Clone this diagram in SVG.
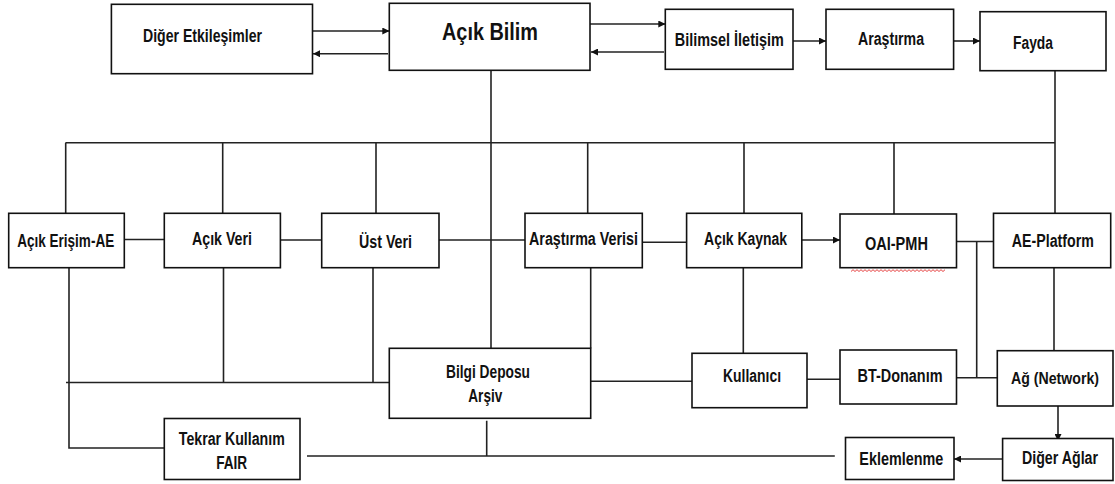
<svg xmlns="http://www.w3.org/2000/svg" width="1115" height="484" viewBox="0 0 1115 484">
<defs>
<marker id="ah" viewBox="0 0 10 10" refX="10" refY="5" markerWidth="7" markerHeight="7" markerUnits="userSpaceOnUse" orient="auto">
<path d="M0,0 L10,5 L0,10 z" fill="#111"/>
</marker>
<style>
.box{fill:#fff;stroke:#111;stroke-width:1.6}
.lbl{font-family:"Liberation Sans",Arial,sans-serif;font-weight:bold;font-size:17.5px;fill:#111;text-anchor:middle}
.big{font-size:23px}
.sm{font-size:16.5px}
.ln{fill:none;stroke:#222;stroke-width:1.6}
.ar{fill:none;stroke:#222;stroke-width:1.6;marker-end:url(#ah)}
</style>
</defs>
<rect width="1115" height="484" fill="#fff"/>
<g id="connectors">
<path class="ar" d="M312.5,31 H389.3"/>
<path class="ar" d="M388,53.7 H313"/>
<path class="ar" d="M590,24 H665.3"/>
<path class="ar" d="M664,52 H591"/>
<path class="ar" d="M793,41 H826"/>
<path class="ar" d="M953.6,41 H980"/>
<path class="ln" d="M491,70.3 V348.3"/>
<path class="ln" d="M65.5,142.7 H1055"/>
<path class="ln" d="M1055,70.7 V213.3"/>
<path class="ln" d="M65.7,142.7 V213.3 M222.7,142.7 V213.3 M376,142.7 V213.3 M587.7,142.7 V213.3 M744,142.7 V213.3 M894,142.7 V214"/>
<path class="ln" d="M124.3,239.5 H164.3 M280.4,240 H321.7 M439,240 H525 M642.3,242.3 H686.6"/>
<path class="ar" d="M801.8,240 H840"/>
<path class="ln" d="M956.5,241.5 H993.5 M976.7,241.5 V377.7"/>
<path class="ln" d="M1054,267.7 V350.7"/>
<path class="ln" d="M69,267.7 V448 H164.3"/>
<path class="ln" d="M223.5,267.7 V382.5 M373,267.7 V382.5 M66,382.5 H389.3"/>
<path class="ln" d="M590.7,267.7 V348.3"/>
<path class="ln" d="M590.7,381.3 H692 M743.3,267.7 V353.3 M807,379.3 H840 M956.5,377.7 H997.3"/>
<path class="ar" d="M1058,406 V441"/>
<path class="ar" d="M1002.6,459 H954"/>
<path class="ln" d="M307,456 H834.8 M486.7,420.7 V456"/>
</g>
<g id="n-diger-etkilesimler"><rect class="box" x="111.4" y="4.3" width="201.1" height="69.4"/><text class="lbl" x="202.5" y="41.7" textLength="119" lengthAdjust="spacingAndGlyphs">Diğer Etkileşimler</text></g>
<g id="n-acik-bilim"><rect class="box" x="389.3" y="3.3" width="200.7" height="67"/><text class="lbl big" x="490" y="40" textLength="96" lengthAdjust="spacingAndGlyphs">Açık Bilim</text></g>
<g id="n-bilimsel-iletisim"><rect class="box" x="665.3" y="9.3" width="127.7" height="60"/><text class="lbl" x="729.3" y="46" textLength="109" lengthAdjust="spacingAndGlyphs">Bilimsel İletişim</text></g>
<g id="n-arastirma"><rect class="box" x="826" y="9.3" width="127.6" height="60"/><text class="lbl" x="891" y="45" textLength="66" lengthAdjust="spacingAndGlyphs">Araştırma</text></g>
<g id="n-fayda"><rect class="box" x="980" y="11.7" width="126" height="59"/><text class="lbl" x="1033" y="49" textLength="40" lengthAdjust="spacingAndGlyphs">Fayda</text></g>
<g id="n-acik-erisim"><rect class="box" x="8.7" y="213.3" width="115.6" height="54.4"/><text class="lbl" x="65.7" y="246.7" textLength="97" lengthAdjust="spacingAndGlyphs">Açık Erişim-AE</text></g>
<g id="n-acik-veri"><rect class="box" x="164.3" y="213.3" width="116.1" height="54.4"/><text class="lbl" x="222" y="245" textLength="60" lengthAdjust="spacingAndGlyphs">Açık Veri</text></g>
<g id="n-ust-veri"><rect class="box" x="321.7" y="213.3" width="117.3" height="54.4"/><text class="lbl" x="385.5" y="247.5" textLength="53" lengthAdjust="spacingAndGlyphs">Üst Veri</text></g>
<g id="n-arastirma-verisi"><rect class="box" x="525" y="213.3" width="117.3" height="54.4"/><text class="lbl" x="583.5" y="245" textLength="109" lengthAdjust="spacingAndGlyphs">Araştırma Verisi</text></g>
<g id="n-acik-kaynak"><rect class="box" x="686.6" y="213.3" width="115.2" height="54.4"/><text class="lbl" x="745.6" y="245" textLength="83" lengthAdjust="spacingAndGlyphs">Açık Kaynak</text></g>
<g id="n-oai-pmh"><rect class="box" x="840" y="214" width="116.5" height="53.7"/><text class="lbl" x="896.4" y="250" textLength="63" lengthAdjust="spacingAndGlyphs">OAI-PMH</text>
<path d="M851,271.5 l2,-1.8 l2,1.8 l2,-1.8 l2,1.8 l2,-1.8 l2,1.8 l2,-1.8 l2,1.8 l2,-1.8 l2,1.8 l2,-1.8 l2,1.8 l2,-1.8 l2,1.8 l2,-1.8 l2,1.8 l2,-1.8 l2,1.8 l2,-1.8 l2,1.8 l2,-1.8 l2,1.8 l2,-1.8 l2,1.8 l2,-1.8 l2,1.8 l2,-1.8 l2,1.8 l2,-1.8 l2,1.8 l2,-1.8 l2,1.8 l2,-1.8 l2,1.8 l2,-1.8 l2,1.8 l2,-1.8 l2,1.8 l2,-1.8 l2,1.8 l2,-1.8 l2,1.8 l2,-1.8 l2,1.8 l2,-1.8 l2,1.8 l2,-1.8" fill="none" stroke="#e23030" stroke-width="0.9"/></g>
<g id="n-ae-platform"><rect class="box" x="993.5" y="213.3" width="117.2" height="54.4"/><text class="lbl" x="1052.8" y="247.3" textLength="82" lengthAdjust="spacingAndGlyphs">AE-Platform</text></g>
<g id="n-bilgi-deposu"><rect class="box" x="389.3" y="348.3" width="201.4" height="70"/><text class="lbl" x="488" y="378.3" textLength="84" lengthAdjust="spacingAndGlyphs">Bilgi Deposu</text><text class="lbl" x="485.3" y="401.7" textLength="34" lengthAdjust="spacingAndGlyphs">Arşiv</text></g>
<g id="n-kullanici"><rect class="box" x="692" y="353.3" width="115" height="54.4"/><text class="lbl" x="752" y="382.3" textLength="58" lengthAdjust="spacingAndGlyphs">Kullanıcı</text></g>
<g id="n-bt-donanim"><rect class="box" x="840" y="350" width="116.5" height="54"/><text class="lbl" x="900" y="382.3" textLength="85" lengthAdjust="spacingAndGlyphs">BT-Donanım</text></g>
<g id="n-ag"><rect class="box" x="997.3" y="350.7" width="115.7" height="55.3"/><text class="lbl sm" x="1055" y="384" textLength="88" lengthAdjust="spacingAndGlyphs">Ağ (Network)</text></g>
<g id="n-tekrar-kullanim"><rect class="box" x="164.3" y="418.5" width="135.7" height="61"/><text class="lbl" x="231.8" y="445" textLength="106" lengthAdjust="spacingAndGlyphs">Tekrar Kullanım</text><text class="lbl" x="231.7" y="468.5" textLength="31" lengthAdjust="spacingAndGlyphs">FAIR</text></g>
<g id="n-eklemlenme"><rect class="box" x="845.5" y="437.5" width="108.5" height="42"/><text class="lbl" x="901.3" y="465" textLength="84" lengthAdjust="spacingAndGlyphs">Eklemlenme</text></g>
<g id="n-diger-aglar"><rect class="box" x="1002.6" y="438.5" width="110.4" height="42"/><text class="lbl" x="1060" y="463.5" textLength="76" lengthAdjust="spacingAndGlyphs">Diğer Ağlar</text></g>
</svg>
